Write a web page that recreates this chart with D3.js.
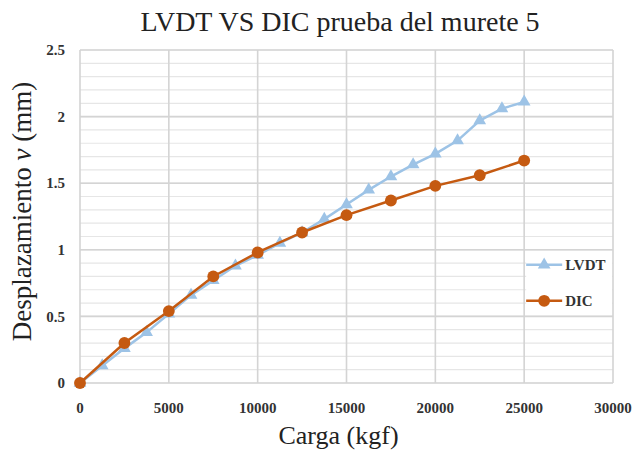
<!DOCTYPE html>
<html>
<head>
<meta charset="utf-8">
<script src="https://cdn.jsdelivr.net/npm/d3@7"></script>
<style>
  body { margin: 0; background: #fff; }
  text { font-family: "Liberation Serif", "Times New Roman", serif; }
</style>
</head>
<body>
<div id="chart"></div>
<script>
// ---------- data ----------
const lvdtCarga = [0, 1250, 2500, 3750, 5000, 6250, 7500, 8750, 10000, 11250, 12500,
                   13750, 15000, 16250, 17500, 18750, 20000, 21250, 22500, 23750, 25000];
const lvdtDesp  = [0, 0.13, 0.26, 0.38, 0.52, 0.66, 0.77, 0.88, 0.96, 1.05, 1.13,
                   1.23, 1.34, 1.45, 1.55, 1.64, 1.72, 1.82, 1.97, 2.06, 2.11];
const dicCarga  = [0, 2500, 5000, 7500, 10000, 12500, 15000, 17500, 20000, 22500, 25000];
const dicDesp   = [0, 0.30, 0.54, 0.80, 0.98, 1.13, 1.26, 1.37, 1.48, 1.56, 1.67];
const xTicks = [0, 5000, 10000, 15000, 20000, 25000, 30000];
const yTicks = [0, 0.5, 1, 1.5, 2, 2.5];

const W = 636, H = 457;
const pad = { left: 80, right: 23, top: 50, bottom: 74 };
const w = W - pad.left - pad.right, h = H - pad.top - pad.bottom;
const serif = '"Liberation Serif", "Times New Roman", serif';

const svg = d3.select("#chart").append("svg").attr("width", W).attr("height", H);
const g = svg.append("g").attr("transform", `translate(${pad.left},${pad.top})`);

const x = d3.scaleLinear().domain([0, 30000]).range([0, w]);
const y = d3.scaleLinear().domain([0, 2.5]).range([h, 0]);

// minor + major gridlines
const minor = d3.range(0, 2.5001, 0.1);
g.append("g").selectAll("line").data(minor).enter().append("line")
  .attr("x1", 0).attr("x2", w)
  .attr("y1", d => y(d)).attr("y2", d => y(d))
  .attr("stroke", "#e6e6e6").attr("stroke-width", 1.2);
g.append("g").selectAll("line").data(yTicks).enter().append("line")
  .attr("x1", 0).attr("x2", w)
  .attr("y1", d => y(d)).attr("y2", d => y(d))
  .attr("stroke", "#d4d4d4").attr("stroke-width", 1.6);
g.append("g").selectAll("line").data(xTicks).enter().append("line")
  .attr("x1", d => x(d)).attr("x2", d => x(d))
  .attr("y1", 0).attr("y2", h)
  .attr("stroke", "#d4d4d4").attr("stroke-width", 1.6);

// tick labels
g.append("g").selectAll("text").data(xTicks).enter().append("text")
  .attr("x", d => x(d)).attr("y", h + 30)
  .attr("text-anchor", "middle").style("font-family", serif)
  .style("font-size", "15px").style("font-weight", "bold")
  .attr("fill", "#333").text(d => d);
g.append("g").selectAll("text").data(yTicks).enter().append("text")
  .attr("x", -15).attr("y", d => y(d)).attr("dy", "0.35em")
  .attr("text-anchor", "end").style("font-family", serif)
  .style("font-size", "15px").style("font-weight", "bold")
  .attr("fill", "#333").text(d => d);

// series
const series = [
  { name: "LVDT", xs: lvdtCarga, ys: lvdtDesp, color: "#9dc3e6", marker: "triangle" },
  { name: "DIC",  xs: dicCarga,  ys: dicDesp,  color: "#c55a11", marker: "circle" }
];
const line = d3.line().x(p => x(p[0])).y(p => y(p[1]));
const sym = { triangle: d3.symbol().type(d3.symbolTriangle).size(70),
              circle: d3.symbol().type(d3.symbolCircle).size(110) };

series.forEach(s => {
  const pts = s.xs.map((v, i) => [v, s.ys[i]]);
  g.append("path").attr("d", line(pts)).attr("fill", "none")
    .attr("stroke", s.color).attr("stroke-width", 2.5);
  g.append("g").selectAll("path").data(pts).enter().append("path")
    .attr("d", sym[s.marker])
    .attr("transform", p => `translate(${x(p[0])},${y(p[1])})`)
    .attr("fill", s.color);
});

// legend
const lg = g.append("g").attr("transform", `translate(${x(25000) + 2},${y(1) + 4})`);
lg.append("rect").attr("x", 0).attr("y", 0).attr("width", w - x(25000) - 3).attr("height", 58)
  .attr("fill", "#fff");
series.forEach((s, i) => {
  const yy = 11 + i * 36;
  lg.append("line").attr("x1", 0).attr("x2", 36).attr("y1", yy).attr("y2", yy)
    .attr("stroke", s.color).attr("stroke-width", 2.5);
  lg.append("path").attr("d", sym[s.marker]).attr("transform", `translate(18,${yy})`)
    .attr("fill", s.color);
  lg.append("text").attr("x", 39).attr("y", yy).attr("dy", "0.35em")
    .style("font-size", "15px").style("font-weight", 700).attr("fill", "#333").text(s.name);
});

// titles
svg.append("text").attr("x", 340).attr("y", 31).attr("text-anchor", "middle")
  .style("font-size", "28px").attr("fill", "#222").text("LVDT VS DIC prueba del murete 5");
svg.append("text").attr("x", pad.left + w / 2 - 8).attr("y", H - 13).attr("text-anchor", "middle")
  .style("font-size", "26px").attr("fill", "#222").text("Carga (kgf)");
const yt = svg.append("text").attr("transform", `translate(31,${pad.top + h / 2 - 5}) rotate(-90)`)
  .attr("text-anchor", "middle").style("font-size", "27px").attr("fill", "#222");
yt.append("tspan").text("Desplazamiento ");
yt.append("tspan").style("font-style", "italic").text("v");
yt.append("tspan").text(" (mm)");
</script>
</body>
</html>
